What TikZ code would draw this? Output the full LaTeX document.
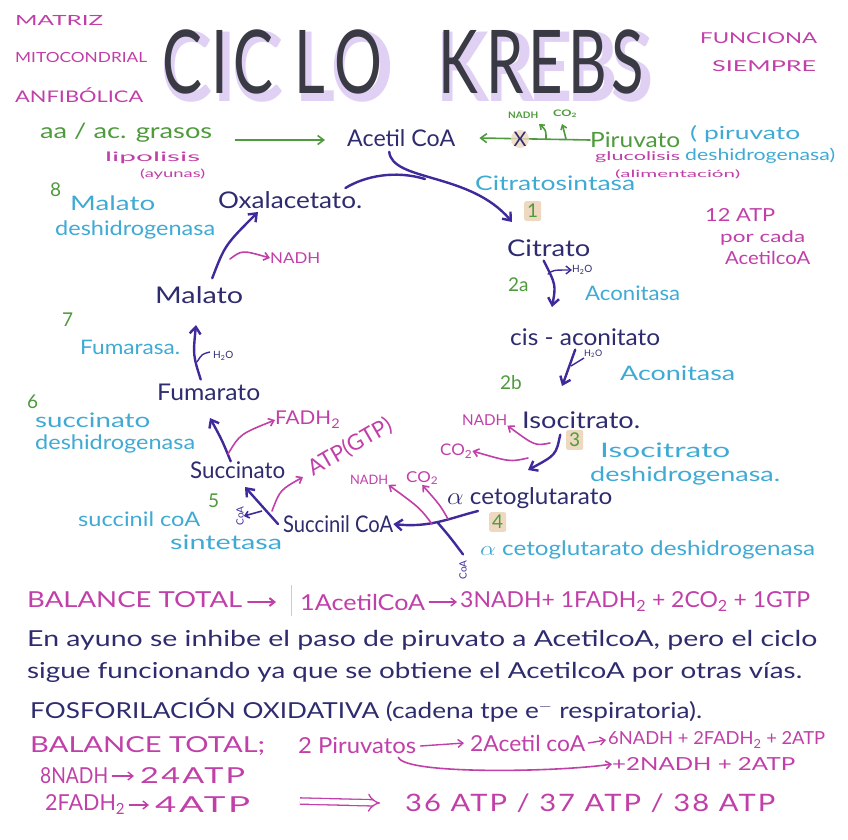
\documentclass[tikz,border=0pt]{standalone}
\usepackage{fontspec}
\setmainfont{Lato}
\usetikzlibrary{arrows.meta}
\definecolor{navy}{HTML}{2E2C6E}
\definecolor{arr}{HTML}{40299A}
\definecolor{cyn}{HTML}{3FAAD4}
\definecolor{grn}{HTML}{4E9A3C}
\definecolor{mag}{HTML}{C13FA8}
\definecolor{lav}{HTML}{E0D0F4}
\definecolor{tanb}{HTML}{EED8C0}
\definecolor{ttl}{HTML}{3A3A44}
\newcommand{\fw}[2]{\resizebox{#1pt}{\height}{#2}}
\newcommand{\lsp}[1]{{\addfontfeature{LetterSpace=7}#1}}
\tikzset{
  tx/.style={inner sep=0pt, anchor=west},
  met/.style={tx, text=navy, font=\fontsize{23}{26}\selectfont},
  enz/.style={tx, text=cyn, font=\fontsize{20}{22}\selectfont},
  num/.style={tx, text=grn, font=\fontsize{19}{20}\selectfont},
  mg/.style={tx, text=mag, font=\fontsize{15}{18}\selectfont},
  bt/.style={tx, text=navy, font=\fontsize{22}{24}\selectfont},
  bm/.style={tx, text=mag, font=\fontsize{22}{24}\selectfont},
  numbox/.style={num, fill=tanb, inner sep=3pt, rounded corners=2pt},
  pa/.style={draw=arr, line width=2.4pt, line cap=round, -{Straight Barb[length=7pt,width=11pt]}},
  ma/.style={draw=mag, line width=1.6pt, line cap=round, -{Straight Barb[length=5pt,width=8pt]}},
  ga/.style={draw=grn, line width=1.6pt, line cap=round, -{Straight Barb[length=6pt,width=9pt]}},
}
\begin{document}
\begin{tikzpicture}[x=1pt,y=-1pt]
\useasboundingbox[fill=white] (0,0) rectangle (848,839);
% title
\foreach \x/\l [count=\i] in {182/C,220/I,253/C,310/L,358/O,458/K,505/R,546/E,588/B,628/S}{
  \node[text=lav, inner sep=0pt, font=\fontsize{96}{96}\selectfont\bfseries] (tb\i) at (\x+5,67) {\scalebox{0.8}[1]{\l}};
  \node[text=ttl, inner sep=0pt, font=\fontsize{88}{90}\selectfont] (tl\i) at (\x,62) {\scalebox{0.68}[1]{\l}};
}
\node[mg, font=\fontsize{14}{16}\selectfont] (m1) at (15,20) {\fw{88}{MATRIZ}};
\node[mg, font=\fontsize{14}{16}\selectfont] (m2) at (15,57) {\fw{132}{MITOCONDRIAL}};
\node[mg, font=\fontsize{16}{18}\selectfont] (m3) at (15,95) {\fw{128}{ANFIBÓLICA}};
\node[mg, font=\fontsize{15}{18}\selectfont] (f1) at (700,38) {\fw{117}{FUNCIONA}};
\node[mg, font=\fontsize{15}{18}\selectfont] (f2) at (712,66) {\fw{104}{SIEMPRE}};

% top row
\node[tx, text=grn, font=\fontsize{21}{22}\selectfont] (aa) at (40,133) {\fw{172}{aa / ac. grasos}};
\node[mg, font=\fontsize{13}{14}\selectfont] (lip) at (105,158) {\fw{95}{lipolisis}};
\node[mg, font=\fontsize{11}{12}\selectfont] (ayu) at (140,174) {\fw{65}{(ayunas)}};
\node[met] (acetil) at (347,138) {\fw{108}{Acetil CoA}};
\node[tx, text=grn, font=\fontsize{21}{22}\selectfont] (piru) at (590,140) {\fw{90}{Piruvato}};
\node[enz, font=\fontsize{18}{20}\selectfont] (pd1) at (690,134) {\fw{110}{( piruvato}};
\node[enz, font=\fontsize{16}{18}\selectfont] (pd2) at (685,156) {\fw{150}{deshidrogenasa)}};
\node[mg, font=\fontsize{12}{14}\selectfont] (glu) at (595,157) {\fw{85}{glucolisis}};
\node[mg, font=\fontsize{10}{12}\selectfont] (ali) at (615,174) {\fw{125}{(alimentación)}};
\node[tx, text=grn, font=\fontsize{9}{10}\selectfont\bfseries] (gnadh) at (508,115) {\fw{30}{NADH}};
\node[tx, text=grn, font=\fontsize{9}{10}\selectfont\bfseries] (gco) at (553,114) {\fw{24}{CO\textsubscript{2}}};
\node[enz] (cs) at (475,183) {\fw{160}{Citratosintasa}};
\node[numbox] (n1) at (524,211) {1};
\node[mg, font=\fontsize{18}{20}\selectfont] (atp1) at (705,215) {\fw{70}{12 ATP}};
\node[mg, font=\fontsize{16}{18}\selectfont] (atp2) at (720,238) {\fw{85}{por cada}};
\node[mg, font=\fontsize{18}{20}\selectfont] (atp3) at (725,258) {\fw{85}{AcetilcoA}};

% left side
\node[num] (n8) at (50,190) {8};
\node[enz] (md1) at (70,203) {\fw{85}{Malato}};
\node[enz] (md2) at (55,230) {\fw{160}{deshidrogenasa}};
\node[met] (oxa) at (218,200) {\fw{144}{Oxalacetato.}};
\node[mg] (nadh8) at (270,258) {\fw{50}{NADH}};
\node[met] (malato) at (155,295) {\fw{88}{Malato}};
\node[num] (n7) at (62,320) {7};
\node[enz] (fum) at (80,347) {\fw{100}{Fumarasa.}};
\node[tx, text=navy, font=\fontsize{10}{11}\selectfont] (h2o7) at (213,356) {H\textsubscript{2}O};
\node[met] (fumarato) at (157,392) {\fw{103}{Fumarato}};
\node[num] (n6) at (27,402) {6};
\node[enz] (sd1) at (35,420) {\fw{115}{succinato}};
\node[enz] (sd2) at (35,444) {\fw{160}{deshidrogenasa}};
\node[mg, font=\fontsize{19}{20}\selectfont] (fadh) at (275,420) {\fw{65}{FADH\textsubscript{2}}};
\node[met] (succinato) at (190,470) {\fw{95}{Succinato}};
\node[text=mag, font=\fontsize{22}{22}\selectfont, rotate=30, inner sep=0pt] (atpg) at (350,447) {ATP(GTP)};
\node[num] (n5) at (208,501) {5};
\node[enz] (ss1) at (78,519) {\fw{122}{succinil coA}};
\node[enz] (ss2) at (170,542) {\fw{112}{sintetasa}};
\node[text=arr, font=\fontsize{10}{11}\selectfont, rotate=90, inner sep=0pt] (coa5) at (240,516) {CoA};
\node[met] (succoa) at (283,524) {\fw{110}{Succinil CoA}};
\node[mg, font=\fontsize{13}{14}\selectfont] (nadh4) at (350,480) {\fw{38}{NADH}};
\node[mg, font=\fontsize{15}{16}\selectfont] (co4) at (406,478) {\fw{32}{CO\textsubscript{2}}};

% right side
\node[met] (akg) at (447,498) {\fw{165}{$\alpha$ cetoglutarato}};
\node[numbox] (n4) at (489,522) {4};
\node[enz] (akgd) at (480,550) {\fw{335}{$\alpha$ cetoglutarato deshidrogenasa}};
\node[text=arr, font=\fontsize{10}{11}\selectfont, rotate=90, inner sep=0pt] (coa4) at (463,570) {CoA};
\node[met] (iso) at (522,420) {\fw{118}{Isocitrato.}};
\node[mg] (nadh3) at (462,420) {\fw{45}{NADH}};
\node[mg, font=\fontsize{16}{18}\selectfont] (co3) at (440,451) {\fw{32}{CO\textsubscript{2}}};
\node[numbox] (n3) at (566,440) {3};
\node[enz] (id1) at (600,450) {\fw{130}{Isocitrato}};
\node[enz] (id2) at (590,476) {\fw{190}{deshidrogenasa.}};
\node[met] (citrato) at (507,248) {\fw{83}{Citrato}};
\node[num] (n2a) at (508,285) {2a};
\node[tx, text=navy, font=\fontsize{10}{11}\selectfont] (h2oa) at (572,270) {H\textsubscript{2}O};
\node[enz] (ac1) at (585,293) {\fw{95}{Aconitasa}};
\node[met] (cis) at (510,337) {\fw{150}{cis - aconitato}};
\node[num] (n2b) at (500,383) {2b};
\node[tx, text=navy, font=\fontsize{9}{10}\selectfont] (h2ob) at (584,354) {H\textsubscript{2}O};
\node[enz] (ac2) at (620,373) {\fw{115}{Aconitasa}};

% top arrows
\draw[ga] ([xshift=23pt,yshift=-7pt]aa.east) -- ([xshift=-22pt,yshift=-2pt]acetil.west);
\draw[ga] (piru.west) -- ([xshift=24pt]acetil.east);
\fill[tanb, opacity=0.8] (520,139) circle (9pt);
\node[text=navy, font=\fontsize{20}{20}\selectfont, inner sep=0pt] (xm) at (520,139) {X};
\draw[ga, -{Straight Barb[length=4pt,width=6pt]}] (546,139) .. controls (546,130) .. (539,124);
\draw[ga, -{Straight Barb[length=4pt,width=6pt]}] (566,139) .. controls (565,132) .. (562,124);

% cycle arrows
\draw[draw=arr, line width=2.4pt, line cap=round] ([xshift=-17pt,yshift=12pt]oxa.east) .. controls (365,176) and (395,170) .. (425,179);
\coordinate (c1) at (512,222);
\draw[pa] ([xshift=-12pt,yshift=-5pt]acetil.south) .. controls +(3,30) and (470,172) .. (c1);
\draw[pa] ([xshift=-5pt,yshift=-4pt]citrato.south) .. controls (556,285) .. (552,307);
\draw[ma, draw=arr, line width=1.4pt] (548,274) .. controls (553,270) .. (h2oa.west);
\draw[pa] ([xshift=-10pt,yshift=-4pt]cis.south) .. controls (570,367) .. (562,386);
\draw[draw=arr, line width=1.4pt] (571,366) -- (584,358);
\draw[pa] ([xshift=-21pt,yshift=-6pt]iso.south) .. controls (556,455) .. (528,470);
\draw[ma] (550,443) .. controls (535,446) .. (nadh3.south east);
\draw[ma] (528,458) .. controls (510,462) .. (co3.east);
\draw[pa] (478,511) .. controls (450,518) and (430,528) .. (succoa.east);
\draw[draw=arr, line width=2.4pt, line cap=round] (coa4.east) ++(0,-6) .. controls (450,537) .. (438,523);
\draw[ma] (432,524) .. controls (420,508) .. (nadh4.south east);
\draw[ma] (448,519) .. controls (440,505) .. (co4.south);
\draw[pa] ([xshift=-5pt]succoa.west) .. controls (262,506) .. (245,487);
\draw[draw=arr, line width=1.6pt, -{Straight Barb[length=4pt,width=7pt]}] (262,511) -- (coa5.south);
\draw[ma] (272,511) .. controls (280,490) .. (303,477);
\draw[pa] ([xshift=-7pt]succinato.north) .. controls (222,440) .. (210,418);
\draw[ma] (228,454) .. controls (240,434) .. (fadh.west);
\draw[pa] ([xshift=-8pt,yshift=4pt]fumarato.north) .. controls (193,355) .. (196,325);
\draw[draw=arr, line width=1.4pt] (197,362) .. controls (202,354) .. (210,352);
\draw[pa] ([xshift=13pt,yshift=8pt]malato.north) .. controls (225,245) .. (258,212);
\draw[ma] (230,259) .. controls (242,250) .. (nadh8.west);

% bottom text
\node[bm] (bal1) at (27,600) {\fw{215}{BALANCE TOTAL}};
\draw[ma, line width=2pt] (248,602) -- (276,602);
\draw[gray!40, line width=1pt] (291,585) -- (291,616);
\node[bm] (b1a) at (300,602) {\fw{125}{1AcetilCoA}};
\node[bm] (b1b) at (460,602) {\fw{350}{3NADH+ 1FADH\textsubscript{2} + 2CO\textsubscript{2} + 1GTP}};
\draw[ma, line width=1.4pt] ([xshift=4pt]b1a.east) -- ([xshift=-3pt]b1b.west);
\node[bt] (l2) at (27,640) {\fw{790}{En ayuno se inhibe el paso de piruvato a AcetilcoA, pero el ciclo}};
\node[bt] (l3) at (27,672) {\fw{775}{sigue funcionando ya que se obtiene el AcetilcoA por otras vías.}};
\node[bt] (l4) at (30,710) {\fw{672}{FOSFORILACIÓN OXIDATIVA (cadena tpe e$^{-}$ respiratoria).}};
\node[bm] (bal2) at (30,746) {\fw{235}{BALANCE TOTAL;}};
\node[bm] (p2) at (298,746) {\fw{118}{2 Piruvatos}};
\node[bm] (a2) at (470,743) {\fw{115}{2Acetil coA}};
\node[bm, font=\fontsize{18}{20}\selectfont] (r2) at (608,740) {\fw{217}{6NADH + 2FADH\textsubscript{2} + 2ATP}};
\node[bm, font=\fontsize{18}{20}\selectfont] (r3) at (612,764) {\fw{183}{+2NADH + 2ATP}};
\draw[ma, line width=1.4pt] ([xshift=4pt]p2.east) -- ([xshift=-6pt]a2.west);
\draw[ma, line width=1.4pt] ([xshift=3pt]a2.east) -- ([xshift=-2pt]r2.west);
\draw[ma] ([xshift=-18pt,yshift=-3pt]p2.south east) .. controls (405,775) and (560,772) .. (r3.west);
\node[bm] (e1) at (40,776) {\fw{68}{8NADH}};
\node[bm] (e2) at (140,776) {\fw{105}{\lsp{24ATP}}};
\draw[ma, line width=1.4pt] ([xshift=4pt]e1.east) -- ([xshift=-6pt]e2.west);
\node[bm] (e3) at (45,805) {\fw{80}{2FADH\textsubscript{2}}};
\node[bm] (e4) at (155,805) {\fw{95}{\lsp{4ATP}}};
\draw[ma, line width=1.4pt] ([xshift=4pt]e3.east) -- ([xshift=-6pt]e4.west);
\node[bm, font=\fontsize{24}{26}\selectfont] (tot) at (405,803) {\fw{370}{\lsp{36 ATP / 37 ATP / 38 ATP}}};
\draw[draw=mag, double, double distance=5pt, line width=1.3pt, -{Implies}] (300,801) -- ([xshift=-25pt]tot.west);
\end{tikzpicture}
\end{document}
